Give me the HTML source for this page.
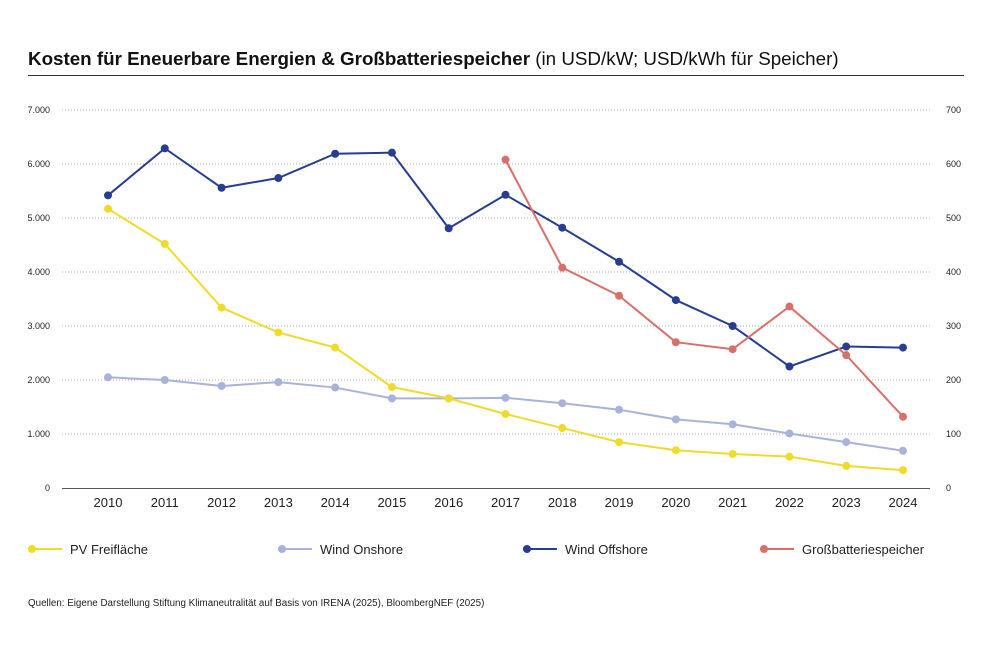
<!DOCTYPE html>
<html><head><meta charset="utf-8"><style>
body{margin:0;background:#fff;width:1000px;height:654px;overflow:hidden;font-family:"Liberation Sans",sans-serif}
</style></head><body>
<svg width="1000" height="654" xmlns="http://www.w3.org/2000/svg" font-family="Liberation Sans, sans-serif">
<text x="28" y="65" font-size="18.8" fill="#111"><tspan font-weight="bold">Kosten für Eneuerbare Energien &amp; Großbatteriespeicher</tspan> (in USD/kW; USD/kWh für Speicher)</text>
<line x1="28" y1="75.5" x2="964" y2="75.5" stroke="#333" stroke-width="1"/>
<g id="grid"></g><g id="axes"></g><g id="series"></g>
<g id="legend" font-size="13" fill="#222"></g>
<text x="28" y="606" font-size="9.8" fill="#222">Quellen: Eigene Darstellung Stiftung Klimaneutralität auf Basis von IRENA (2025), BloombergNEF (2025)</text>
</svg>
<script>
const years=[2010,2011,2012,2013,2014,2015,2016,2017,2018,2019,2020,2021,2022,2023,2024];
const leftTicks=["0","1.000","2.000","3.000","4.000","5.000","6.000","7.000"];
const rightTicks=["0","100","200","300","400","500","600","700"];
const pv=[5170,4520,3340,2880,2600,1870,1660,1370,1110,850,700,630,580,410,330];
const onshore=[2050,2000,1890,1960,1860,1660,1660,1670,1570,1450,1270,1180,1010,850,690];
const offshore=[5420,6290,5560,5740,6190,6210,4810,5430,4820,4190,3480,3000,2250,2620,2600];
const batteryYears=[2017,2018,2019,2020,2021,2022,2023,2024];
const battery=[608,408,356,270,257,336,246,132];
const NS="http://www.w3.org/2000/svg";
const x=y=>108+(y-2010)*(903-108)/14;
const yl=v=>488-v*(378/7000);
const yr=v=>488-v*(378/700);
function mk(t,a,p){const e=document.createElementNS(NS,t);for(const k in a)e.setAttribute(k,a[k]);p.appendChild(e);return e;}
const grid=document.getElementById('grid'),axes=document.getElementById('axes'),ser=document.getElementById('series'),leg=document.getElementById('legend');
leftTicks.forEach((t,i)=>{const yy=yl(i*1000);
 if(i>0){const g=mk('line',{x1:62,x2:930,y1:yy,y2:yy,stroke:'#999','stroke-dasharray':'1 2','stroke-width':0.8},grid);
 
 }
 const a=mk('text',{x:50,y:yy+3,'font-size':9,'text-anchor':'end',fill:'#222'},axes);a.textContent=t;
 
 
 const b=mk('text',{x:946,y:yy+3,'font-size':9,fill:'#222'},axes);b.textContent=rightTicks[i];
 
 
});
const base=mk('line',{x1:62,x2:930,y1:488.5,y2:488.5,stroke:'#555','stroke-width':1},axes);


years.forEach(y=>{const t=mk('text',{x:x(y),y:507,'font-size':13,'text-anchor':'middle',fill:'#222'},axes);t.textContent=y;
 
 });
function draw(xs,vals,sc,col,name){
 const pts=vals.map((v,i)=>x(xs[i])+','+sc(v)).join(' ');
 const pl=mk('polyline',{points:pts,fill:'none',stroke:col,'stroke-width':2},ser);
 
 
 vals.forEach((v,i)=>{const c=mk('circle',{cx:x(xs[i]),cy:sc(v),r:4,fill:col},ser);
 
 });
}
draw(years,onshore,yl,'#a9b3d9','wind-onshore');
draw(years,pv,yl,'#efdb2b','pv');
draw(years,offshore,yl,'#283d8f','wind-offshore');
draw(batteryYears,battery,yr,'#d5716a','battery');
[['PV Freifläche','#efdb2b',28],['Wind Onshore','#a9b3d9',278],['Wind Offshore','#283d8f',523],['Großbatteriespeicher','#d5716a',760]].forEach(([n,c,lx])=>{
 const g=mk('g',{},leg);
 
 
 mk('line',{x1:lx,x2:lx+34,y1:549,y2:549,stroke:c,'stroke-width':2},g);
 mk('circle',{cx:lx+4,cy:549,r:4,fill:c},g);
 const t=mk('text',{x:lx+42,y:554,'font-size':13,fill:'#222'},g);t.textContent=n;
});
</script>
</body></html>
